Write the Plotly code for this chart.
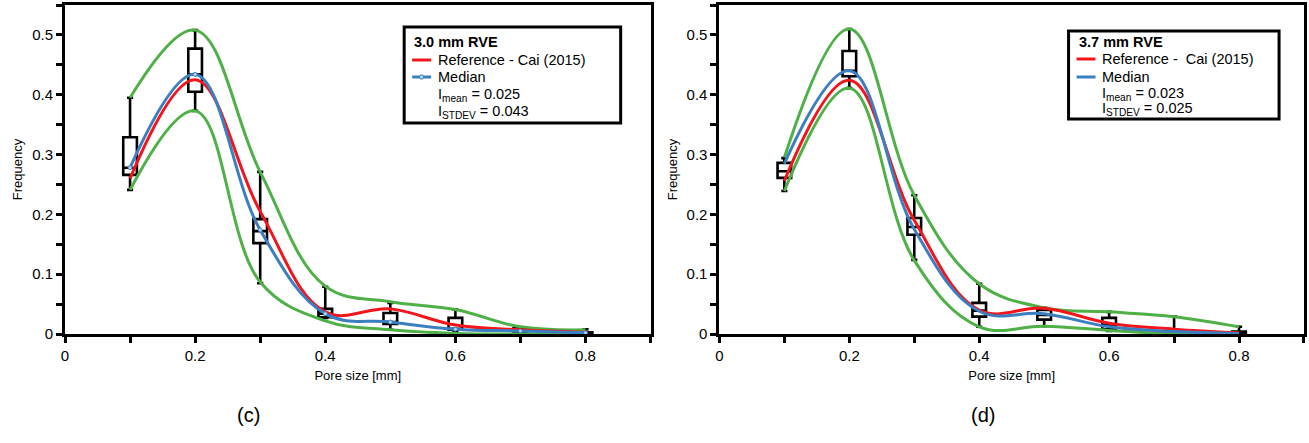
import plotly.graph_objects as go

# Pore-size bins (mm)
pore_size = [0.1, 0.2, 0.3, 0.4, 0.5, 0.6, 0.7, 0.8]

# ---- (c) 3.0 mm RVE ----
ref_c = [0.26, 0.425, 0.205, 0.037, 0.042, 0.015, 0.007, 0.003]
median_c = [0.278, 0.434, 0.174, 0.034, 0.020, 0.008, 0.005, 0.002]
upper_c = [0.395, 0.508, 0.271, 0.080, 0.054, 0.041, 0.012, 0.007]
lower_c = [0.241, 0.373, 0.087, 0.022, 0.007, 0.001, 0.0, 0.0]
box_lo_c = [0.241, 0.373, 0.085, 0.027, 0.007, 0.004, 0.0, 0.0]
box_q1_c = [0.266, 0.405, 0.152, 0.028, 0.017, 0.007, 0.003, 0.0]
box_med_c = [0.278, 0.434, 0.172, 0.034, 0.020, 0.008, 0.005, 0.001]
box_q3_c = [0.329, 0.477, 0.192, 0.042, 0.035, 0.027, 0.010, 0.003]
box_hi_c = [0.395, 0.508, 0.271, 0.079, 0.052, 0.041, 0.011, 0.008]

# ---- (d) 3.7 mm RVE ----
ref_d = [0.256, 0.424, 0.19, 0.040, 0.043, 0.018, 0.008, 0.002]
median_d = [0.285, 0.44, 0.175, 0.038, 0.034, 0.012, 0.004, 0.001]
upper_d = [0.295, 0.51, 0.232, 0.084, 0.044, 0.037, 0.029, 0.012]
lower_d = [0.239, 0.411, 0.123, 0.012, 0.013, 0.006, 0.0, 0.0]
box_lo_d = [0.239, 0.411, 0.124, 0.012, 0.013, 0.005, 0.0, 0.0]
box_q1_d = [0.261, 0.431, 0.166, 0.029, 0.024, 0.008, 0.0, 0.0]
box_med_d = [0.272, 0.44, 0.179, 0.039, 0.032, 0.015, 0.002, 0.002]
box_q3_d = [0.286, 0.473, 0.194, 0.052, 0.040, 0.027, 0.004, 0.004]
box_hi_d = [0.294, 0.51, 0.232, 0.084, 0.044, 0.037, 0.029, 0.012]

legend_c = ["3.0 mm RVE", "Reference - Cai (2015)", "Median",
            "I<sub>mean</sub> = 0.025", "I<sub>STDEV</sub> = 0.043"]
legend_d = ["3.7 mm RVE", "Reference -  Cai (2015)", "Median",
            "I<sub>mean</sub> = 0.023", "I<sub>STDEV</sub> = 0.025"]
panel_labels = ["(c)", "(d)"]

RED = "#f3151c"
BLUE = "#3b7fc0"
GREEN = "#4fb048"
FONT = "Liberation Sans, Arial, Helvetica, sans-serif"
SMOOTH = 1.1

W, H = 1309, 443
ML, MR, MT, MB = 65, 2, 5, 109
PW = W - ML - MR

fig = go.Figure()


def add_panel(xa, ya, ref, med, up, lo, blo, bq1, bmed, bq3, bhi, med_markers):
    fig.add_trace(go.Box(
        x=pore_size, lowerfence=blo, q1=bq1, median=bmed, q3=bq3, upperfence=bhi,
        xaxis=xa, yaxis=ya, width=0.021, whiskerwidth=0.45,
        fillcolor="white", line=dict(color="black", width=2.6),
        boxpoints=False, showlegend=False, hoverinfo="skip"))
    for vals, col in ((up, GREEN), (lo, GREEN), (ref, RED)):
        fig.add_trace(go.Scatter(
            x=pore_size, y=vals, mode="lines", xaxis=xa, yaxis=ya,
            line=dict(color=col, width=3, shape="spline", smoothing=SMOOTH),
            showlegend=False))
    fig.add_trace(go.Scatter(
        x=pore_size, y=med, mode="lines+markers" if med_markers else "lines",
        xaxis=xa, yaxis=ya,
        line=dict(color=BLUE, width=3, shape="spline", smoothing=SMOOTH),
        marker=dict(size=4, color="#b8d4ee", line=dict(color=BLUE, width=1)),
        showlegend=False))


add_panel("x", "y", ref_c, median_c, upper_c, lower_c,
          box_lo_c, box_q1_c, box_med_c, box_q3_c, box_hi_c, True)
add_panel("x2", "y2", ref_d, median_d, upper_d, lower_d,
          box_lo_d, box_q1_d, box_med_d, box_q3_d, box_hi_d, False)

left_px = (65, 652)
right_px = (721, 1307)
top_px, bot_px = 5, 334


def dom(px0, px1):
    return [(px0 - ML) / PW, (px1 - ML) / PW]


axis_common = dict(
    showline=True, linewidth=3, linecolor="black", mirror=True,
    ticks="outside", ticklen=6, tickwidth=2.5, tickcolor="black",
    showgrid=False, zeroline=False,
    tickfont=dict(family=FONT, size=15, color="black"),
    title_font=dict(family=FONT, size=13, color="black"),
)
xaxis_common = dict(axis_common, range=[0, 0.9], dtick=0.2, tick0=0,
                    minor=dict(dtick=0.1, ticks="outside", ticklen=6, tickwidth=2.5, tickcolor="black"),
                    title=dict(text="Pore size [mm]", standoff=8))
yaxis_common = dict(axis_common, range=[0, 0.55], dtick=0.1, tick0=0,
                    minor=dict(dtick=0.05, ticks="outside", ticklen=6, tickwidth=2.5, tickcolor="black"),
                    title=dict(text="Frequency", standoff=7))

fig.update_layout(
    width=W, height=H, margin=dict(l=ML, r=MR, t=MT, b=MB),
    paper_bgcolor="white", plot_bgcolor="white",
    xaxis=dict(xaxis_common, domain=dom(*left_px), anchor="y"),
    yaxis=dict(yaxis_common, domain=[0, 1], anchor="x"),
    xaxis2=dict(xaxis_common, domain=dom(*right_px), anchor="y2"),
    yaxis2=dict(yaxis_common, domain=[0, 1], anchor="x2"),
    showlegend=False,
)


# Legend boxes drawn as shapes and text annotations, placed in pixel terms
def add_legend(xa, ya, panel_px, box, texts, rows, text_x, line_x, marker):
    x0p, x1p = panel_px

    def fx(px):
        return (px - x0p) / (x1p - x0p)

    def fy(py):
        return (bot_px - py) / (bot_px - top_px)

    xr, yr = f"{xa} domain", f"{ya} domain"
    bx0, by0, bx1, by1 = box
    fig.add_shape(type="rect", xref=xr, yref=yr, x0=fx(bx0), x1=fx(bx1),
                  y0=fy(by1), y1=fy(by0), line=dict(color="black", width=3),
                  fillcolor="white", layer="above")
    for i, (t, ry) in enumerate(zip(texts, rows)):
        tx = line_x[0] if i == 0 else text_x
        txt = f"<b>{t}</b>" if i == 0 else t
        fig.add_annotation(xref=xr, yref=yr, x=fx(tx), y=fy(ry), text=txt,
                           showarrow=False, xanchor="left", yanchor="middle",
                           font=dict(family=FONT, size=14.5, color="black"))
    for i, col in ((1, RED), (2, BLUE)):
        fig.add_shape(type="line", xref=xr, yref=yr, x0=fx(line_x[0]), x1=fx(line_x[1]),
                      y0=fy(rows[i]), y1=fy(rows[i]), line=dict(color=col, width=3),
                      layer="above")
    if marker:
        cx = (line_x[0] + line_x[1]) / 2
        fig.add_shape(type="circle", xref=xr, yref=yr, xsizemode="pixel", ysizemode="pixel",
                      xanchor=fx(cx), yanchor=fy(rows[2]), x0=-2.2, x1=2.2, y0=-2.2, y1=2.2,
                      fillcolor="#b8d4ee", line=dict(color=BLUE, width=1), layer="above")


add_legend("x", "y", left_px, (405, 27, 622, 123), legend_c,
           [42, 60, 77, 95, 112], 437, (413, 432), True)
add_legend("x2", "y2", right_px, (1071, 31, 1282, 119), legend_d,
           [42, 59, 77, 94, 109], 1103, (1079, 1098), False)

for label, cx in zip(panel_labels, (249, 985)):
    fig.add_annotation(xref="paper", yref="paper", x=(cx - ML) / PW, y=-(415 - bot_px) / (bot_px - top_px),
                       text=label, showarrow=False, xanchor="center", yanchor="middle",
                       font=dict(family=FONT, size=20, color="black"))

fig.write_html("out.html")
